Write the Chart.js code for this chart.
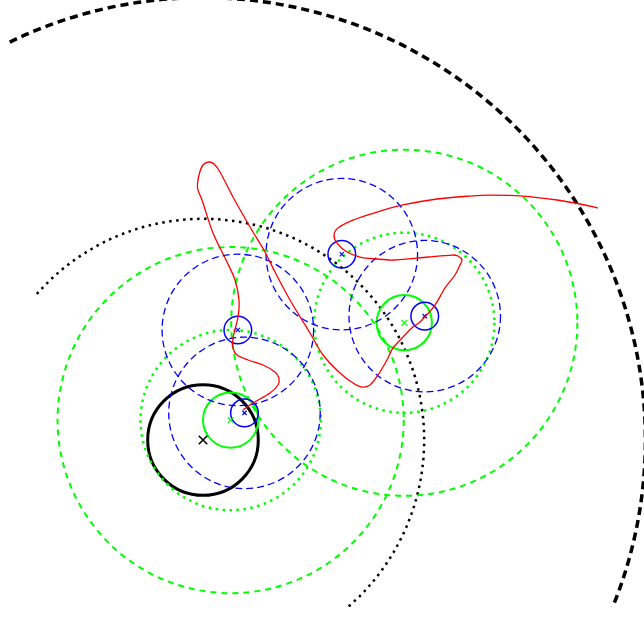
<!DOCTYPE html>
<html>
<head>
<meta charset="utf-8">
<script src="https://cdn.jsdelivr.net/npm/chart.js@4"></script>
<style>
  html, body { margin: 0; padding: 0; background: #fff; overflow: hidden; }
</style>
</head>
<body>
<canvas id="orbitChart" width="644" height="619"></canvas>
<script>
// Bodies (x marks at the centres), in units of the inner black ring
const bodyGroup = ['black', 'green', 'green', 'blue', 'blue', 'blue', 'blue'];
const bodyX = [0, 0.50, 3.64, 0.75, 0.63, 2.51, 4.01];
const bodyY = [0, 0.36, 2.12, 0.49, 1.99, 3.36, 2.24];

// Rings round the bodies: which body, radius, line kind, optional arc span (deg)
const ringBody = [0, 0, 0, 1, 1, 1, 2, 2, 2, 3, 3, 4, 4, 5, 5, 6, 6];
const ringRadius = [1.0, 4.0, 8.0, 0.50, 1.63, 3.13, 0.50, 1.63, 3.13, 0.25, 1.37, 0.25, 1.37, 0.25, 1.37, 0.25, 1.37];
const ringKind = ['solid', 'dotted', 'dashed', 'solid', 'dotted', 'dashed', 'solid', 'dotted', 'dashed',
                  'solid', 'dashed', 'solid', 'dashed', 'solid', 'dashed', 'solid', 'dashed'];
const ringFrom = [null, -70, -40, null, null, null, null, null, null, null, null, null, null, null, null, null, null];
const ringTo   = [null, 138.7, 115.9, null, null, null, null, null, null, null, null, null, null, null, null, null, null];

// The red trajectory
const pathX = [0.723, 0.904, 1.212, 1.356, 1.374, 1.302, 1.085, 0.814, 0.615, 0.542, 0.542, 0.633, 0.651, 0.579,
  0.434, 0.181, -0.018, -0.099, -0.072, 0.000, 0.108, 0.199, 0.307, 0.542, 0.850, 1.121, 1.302, 1.573, 1.935,
  2.170, 2.477, 2.712, 2.875, 3.020, 3.165, 3.327, 3.436, 3.617, 3.797, 3.924, 4.195, 4.376, 4.557, 4.647, 4.684,
  4.611, 4.503, 4.069, 3.436, 3.146, 2.839, 2.604, 2.423, 2.369, 2.441, 2.712, 3.146, 3.617, 4.231, 4.828, 5.190,
  5.787, 6.401, 6.817, 7.143];
const pathY = [0.542, 0.669, 0.850, 0.995, 1.121, 1.230, 1.356, 1.447, 1.537, 1.664, 1.844, 2.224, 2.532, 2.893,
  3.219, 3.743, 4.340, 4.557, 4.792, 4.973, 5.027, 4.991, 4.846, 4.394, 3.852, 3.400, 3.038, 2.532, 1.935,
  1.537, 1.212, 1.031, 0.958, 0.995, 1.175, 1.447, 1.664, 1.863, 2.043, 2.134, 2.441, 2.749, 2.984, 3.165, 3.255,
  3.327, 3.345, 3.309, 3.255, 3.273, 3.309, 3.400, 3.562, 3.707, 3.834, 3.978, 4.123, 4.250, 4.358, 4.412, 4.430,
  4.412, 4.340, 4.268, 4.195];

const colors = { black: '#000000', green: '#00ff00', blue: '#0000ff', red: '#ff0000' };
const lineStyles = {
  'black-solid':  { width: 3,   dash: [] },
  'black-dotted': { width: 2.5, dash: [2.5, 4.5] },
  'black-dashed': { width: 3.5, dash: [8, 5] },
  'green-solid':  { width: 2,   dash: [] },
  'green-dotted': { width: 2.5, dash: [2.5, 4.5] },
  'green-dashed': { width: 2,   dash: [6, 5] },
  'blue-solid':   { width: 1.5, dash: [] },
  'blue-dashed':  { width: 1.3, dash: [7, 4] }
};
const markerSize = { black: 6, green: 4, blue: 3 };

// draws the rings from the body table, through the chart scales
const ringPlugin = {
  id: 'rings',
  beforeDatasetsDraw(chart) {
    const { ctx, chartArea: a, scales: { x, y } } = chart;
    const ppu = Math.abs(x.getPixelForValue(1) - x.getPixelForValue(0));
    ctx.save();
    ctx.beginPath();
    ctx.rect(a.left, a.top, a.right - a.left, a.bottom - a.top);
    ctx.clip();
    ringRadius.forEach((r, i) => {
      const b = ringBody[i];
      const group = bodyGroup[b];
      const st = lineStyles[group + '-' + ringKind[i]];
      const cx = x.getPixelForValue(bodyX[b]);
      const cy = y.getPixelForValue(bodyY[b]);
      let start = 0, end = Math.PI * 2;
      if (ringFrom[i] !== null) {
        start = -ringTo[i] * Math.PI / 180;
        end = -ringFrom[i] * Math.PI / 180;
      }
      ctx.beginPath();
      ctx.strokeStyle = colors[group];
      ctx.lineWidth = st.width;
      ctx.setLineDash(st.dash);
      ctx.arc(cx, cy, r * ppu, start, end);
      ctx.stroke();
    });
    ctx.restore();
  }
};

new Chart(document.getElementById('orbitChart'), {
  type: 'scatter',
  data: {
    datasets: [
      {
        label: 'path',
        data: pathX.map((v, i) => ({ x: v, y: pathY[i] })),
        showLine: true,
        borderColor: colors.red,
        borderWidth: 1.3,
        pointRadius: 0,
        tension: 0.3,
        fill: false
      },
      {
        label: 'bodies',
        data: bodyX.map((v, i) => ({ x: v, y: bodyY[i] })),
        pointStyle: 'crossRot',
        pointRadius: bodyGroup.map(g => markerSize[g]),
        pointBorderColor: bodyGroup.map(g => colors[g]),
        pointBorderWidth: bodyGroup.map(g => g === 'black' ? 1.6 : 1.2),
        showLine: false
      }
    ]
  },
  options: {
    responsive: false,
    animation: false,
    events: [],
    layout: { autoPadding: false, padding: { left: 0, right: 0, top: 0, bottom: 12 } },
    plugins: { legend: { display: false }, tooltip: { enabled: false } },
    scales: {
      x: { display: false, min: -3.671, max: 7.975 },
      y: { display: false, min: -3.020, max: 7.957 }
    }
  },
  plugins: [ringPlugin]
});
</script>
</body>
</html>
